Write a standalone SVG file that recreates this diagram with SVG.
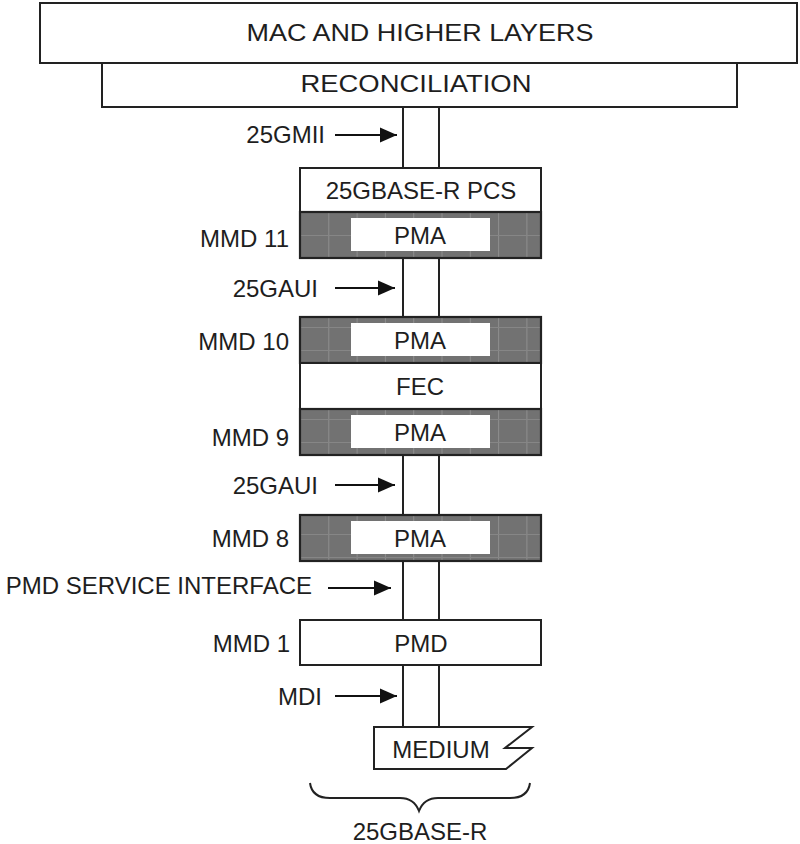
<svg xmlns="http://www.w3.org/2000/svg" width="800" height="844" viewBox="0 0 800 844">
<style>
.box{fill:#fff;stroke:#222;stroke-width:2}
.sh{fill:url(#grid);stroke:#222;stroke-width:2.2}
.in{fill:#fff;stroke:none}
.t{font-family:"Liberation Sans",Arial,sans-serif;font-size:24px;fill:#1e1e1e}
.c{text-anchor:middle}
.r{text-anchor:end}
.col{stroke:#222;stroke-width:2;fill:none}
.arr{stroke:#111;stroke-width:2.2;fill:none}
</style>
<defs>
<pattern id="grid" patternUnits="userSpaceOnUse" x="300" y="212" width="28.3" height="23">
<rect width="28.3" height="23" fill="#727272"/>
<line x1="0.5" y1="0" x2="0.5" y2="23" stroke="#8e8e8e" stroke-width="1"/>
<line x1="0" y1="0.5" x2="28.3" y2="0.5" stroke="#868686" stroke-width="1"/>
</pattern>
<marker id="ah" markerWidth="18" markerHeight="16" refX="17" refY="8" orient="auto" markerUnits="userSpaceOnUse">
<path d="M0,0.5 L17,8 L0,15.5 Z" fill="#111"/>
</marker>
</defs>

<g id="connectors">
<path class="col" d="M403,107 V168 M439,107 V168 M403,258 V317 M439,258 V317 M403,455 V515 M439,455 V515 M403,561 V620 M439,561 V620 M403,665 V727 M439,665 V727"/>
<line class="arr" x1="335" y1="135" x2="397" y2="135" marker-end="url(#ah)"/>
<line class="arr" x1="335" y1="288" x2="395" y2="288" marker-end="url(#ah)"/>
<line class="arr" x1="335" y1="485" x2="395" y2="485" marker-end="url(#ah)"/>
<line class="arr" x1="328" y1="588" x2="391" y2="588" marker-end="url(#ah)"/>
<line class="arr" x1="335" y1="696" x2="397" y2="696" marker-end="url(#ah)"/>
</g>

<g id="mac">
<rect class="box" x="40" y="3" width="757" height="60"/>
<text class="t c" x="420" y="41" textLength="347" lengthAdjust="spacingAndGlyphs">MAC AND HIGHER LAYERS</text>
</g>
<g id="reconciliation">
<rect class="box" x="102" y="63" width="635" height="44"/>
<text class="t c" x="416" y="92" textLength="231" lengthAdjust="spacingAndGlyphs">RECONCILIATION</text>
</g>
<g id="pcs">
<rect class="box" x="300" y="168" width="241" height="44"/>
<text class="t c" x="421" y="199">25GBASE-R PCS</text>
</g>
<g id="pma11">
<rect class="sh" x="300" y="212" width="241" height="46"/>
<rect class="in" x="351" y="218" width="139" height="33"/>
<text class="t c" x="420" y="244">PMA</text>
</g>
<g id="pma10">
<rect class="sh" x="300" y="317" width="241" height="46"/>
<rect class="in" x="351" y="323" width="139" height="33"/>
<text class="t c" x="420" y="349">PMA</text>
</g>
<g id="fec">
<rect class="box" x="300" y="363" width="241" height="46"/>
<text class="t c" x="420" y="395">FEC</text>
</g>
<g id="pma9">
<rect class="sh" x="300" y="409" width="241" height="46"/>
<rect class="in" x="351" y="415" width="139" height="33"/>
<text class="t c" x="420" y="441">PMA</text>
</g>
<g id="pma8">
<rect class="sh" x="300" y="515" width="241" height="46"/>
<rect class="in" x="351" y="521" width="139" height="33"/>
<text class="t c" x="420" y="547">PMA</text>
</g>
<g id="pmd">
<rect class="box" x="300" y="620" width="241" height="45"/>
<text class="t c" x="421" y="652">PMD</text>
</g>
<g id="medium">
<path class="box" d="M374,727 L532,727 L505,748 L532,748 L506,769 L374,769 Z"/>
<text class="t c" x="441" y="758">MEDIUM</text>
</g>
<g id="brace">
<path d="M310,783 Q312,798 330,798 L400,798 Q414,798 419,811 Q424,798 438,798 L510,798 Q528,798 530,783" fill="none" stroke="#222" stroke-width="2"/>
<text class="t c" x="420" y="840">25GBASE-R</text>
</g>

<g id="labels">
<text class="t r" x="325" y="143">25GMII</text>
<text class="t r" x="289" y="247">MMD 11</text>
<text class="t r" x="318" y="297">25GAUI</text>
<text class="t r" x="289" y="350">MMD 10</text>
<text class="t r" x="289" y="446">MMD 9</text>
<text class="t r" x="318" y="494">25GAUI</text>
<text class="t r" x="289" y="547">MMD 8</text>
<text class="t r" x="312" y="594">PMD SERVICE INTERFACE</text>
<text class="t r" x="290" y="652">MMD 1</text>
<text class="t r" x="322" y="705">MDI</text>
</g>
</svg>
